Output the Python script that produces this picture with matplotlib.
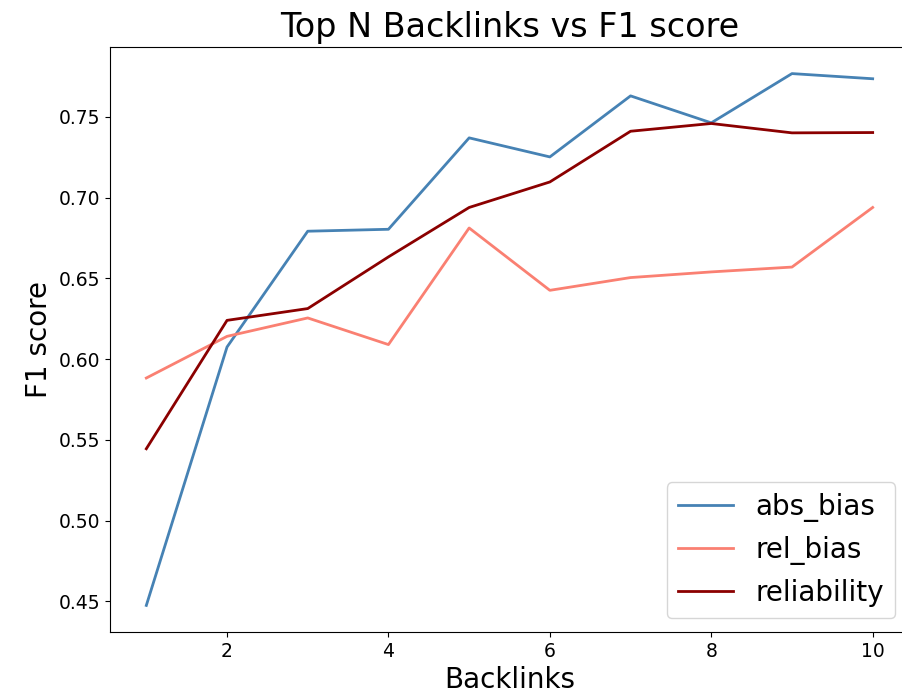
import matplotlib
matplotlib.use('Agg')
import matplotlib.pyplot as plt

# Top N backlinks vs F1 score
backlinks = [1, 2, 3, 4, 5, 6, 7, 8, 9, 10]
abs_bias = [0.4475, 0.6075, 0.6792, 0.6804, 0.737, 0.7252, 0.763, 0.7463, 0.7768, 0.7736]
rel_bias = [0.5883, 0.6141, 0.6255, 0.6090, 0.6812, 0.6426, 0.6505, 0.654, 0.657, 0.6939]
reliability = [0.5445, 0.6240, 0.6313, 0.6633, 0.6939, 0.7097, 0.7411, 0.7459, 0.7401, 0.7403]

series = [('abs_bias', abs_bias, 'steelblue'),
          ('rel_bias', rel_bias, 'salmon'),
          ('reliability', reliability, 'darkred')]

fig = plt.figure(figsize=(9.03, 6.98), dpi=100)
# axes runs past the right edge, as in the original (cropped) image
ax = fig.add_axes([110/903, 66/698, 799/903, 585/698])

for name, vals, col in series:
    ax.plot(backlinks, vals, color=col, lw=2, label=name)

ax.spines['right'].set_color('none')
ax.tick_params(labelsize=13.5)
ax.set_xlabel('Backlinks', fontsize=20)
ax.set_ylabel('F1 score', fontsize=20)
ax.set_title('Top N Backlinks vs F1 score', fontsize=24, pad=7)
ax.legend(loc='lower right', fontsize=20)

fig.savefig('out.png', dpi=100)
